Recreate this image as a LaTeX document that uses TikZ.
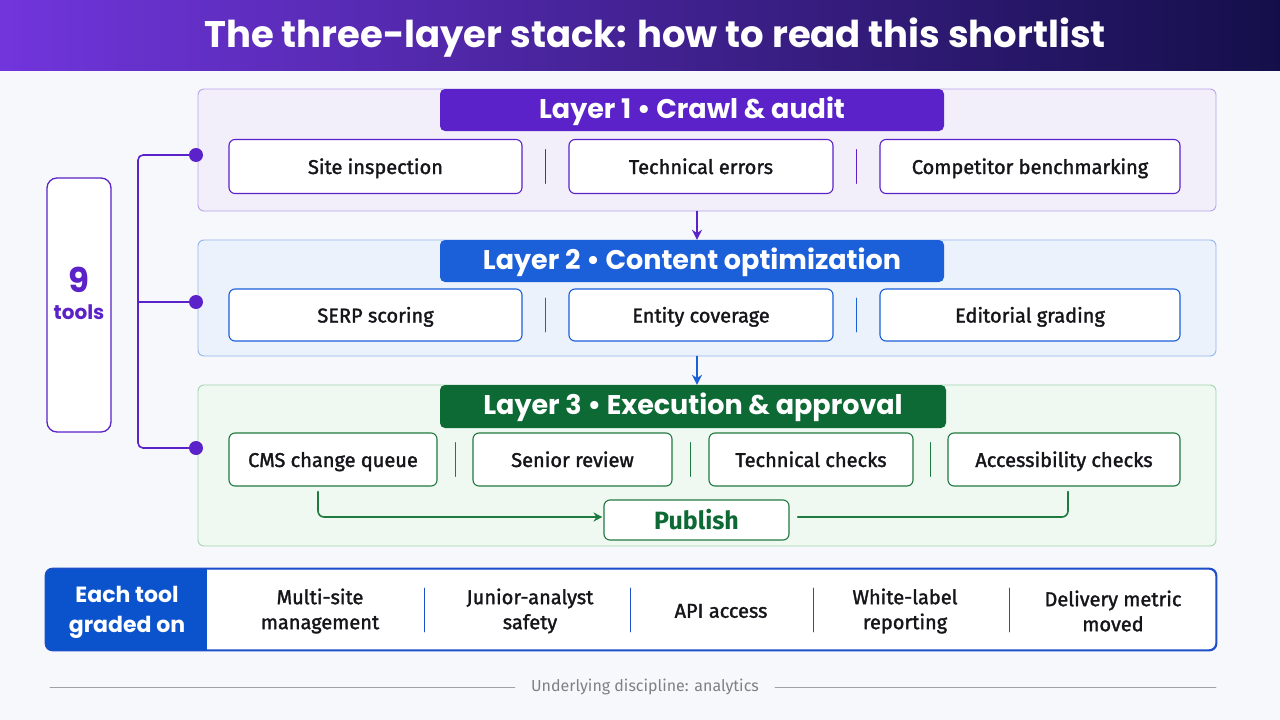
\documentclass[tikz,border=0pt]{standalone}
\usepackage{fontspec}
\setmainfont{Fira Sans}
\newfontfamily\headfont{Poppins}
\newfontfamily\medfont[FakeBold=1.6]{Fira Sans}
\usetikzlibrary{arrows.meta,positioning,calc}

\definecolor{ttlL}{HTML}{7135DC}
\definecolor{ttlM}{HTML}{3C1A98}
\definecolor{ttlR}{HTML}{140F4A}
\definecolor{pagebg}{HTML}{F7F8FB}
\definecolor{violetA}{HTML}{5A22C8}
\definecolor{violetFill}{HTML}{F2EEFA}
\definecolor{violetEdge}{HTML}{B9A4E9}
\definecolor{blueB}{HTML}{1B5FD9}
\definecolor{blueFill}{HTML}{EBF2FC}
\definecolor{blueEdge}{HTML}{92B5EE}
\definecolor{greenC}{HTML}{0D6A35}
\definecolor{greenFill}{HTML}{EFF8F1}
\definecolor{greenEdge}{HTML}{A2D5AE}
\definecolor{greenLine}{HTML}{1F7A3F}
\definecolor{gradeEdge}{HTML}{1D4FC8}
\definecolor{gradeTab}{HTML}{0B53CD}
\definecolor{footGray}{HTML}{A0A0A6}
\definecolor{inkDark}{HTML}{15151A}

\tikzset{
  layerbox/.style={rounded corners=6pt,line width=0.9pt,minimum height=#1,inner sep=0pt},
  layertab/.style={rounded corners=5pt,minimum width=504pt,minimum height=42pt,inner sep=0pt,
    text height=20pt,text depth=4pt,
    text=white,font=\headfont\bfseries\fontsize{27}{30}\selectfont},
  itembox/.style={draw=#1,fill=white,rounded corners=6pt,line width=1.1pt,minimum height=54pt,
    inner sep=0pt,text height=17pt,text depth=2pt,text=inkDark,font=\medfont\fontsize{20}{24}\selectfont},
  sepline/.style={line width=0.9pt,draw=#1},
  stepflow/.style={line width=1.8pt,draw=#1,-{Stealth[length=10pt,width=10pt]}},
  tooldot/.style={circle,fill=violetA,minimum size=14pt,inner sep=0pt},
  gradeitem/.style={align=center,text=inkDark,font=\medfont\fontsize{20}{25}\selectfont},
}

\begin{document}
\begin{tikzpicture}[x=1pt,y=-1pt,line join=round,line cap=round]
  % page and title
  \fill[pagebg] (0,0) rectangle (1280,720);
  \useasboundingbox (0,0) rectangle (1280,720);
  \shade[left color=ttlL,middle color=ttlM,right color=ttlR] (0,0) rectangle (1280,70);
  \node[text=white,font=\headfont\bfseries\fontsize{37}{42}\selectfont] (title) at (655,38)
    {The three-layer stack: how to read this shortlist};

  % layer 1
  \node[layerbox=122pt,fill=violetFill,draw=violetEdge,minimum width=1018pt] (lay1) at (707,150) {};
  \node[layertab,fill=violetA] (tab1) at (692,110) {Layer 1 \textbullet\ Crawl \& audit};
  \node[itembox=violetA,minimum width=293pt] (a1) at (375.5,166.5) {Site inspection};
  \node[itembox=violetA,minimum width=264pt] (a2) at (701,166.5) {Technical errors};
  \node[itembox=violetA,minimum width=300pt] (a3) at (1030,166.5) {Competitor benchmarking};

  % layer 2
  \node[layerbox=116pt,fill=blueFill,draw=blueEdge,minimum width=1018pt] (lay2) at (707,298) {};
  \node[layertab,fill=blueB] (tab2) at (692,261) {Layer 2 \textbullet\ Content optimization};
  \node[itembox=blueB,minimum width=293pt,minimum height=52pt] (b1) at (375.5,315) {SERP scoring};
  \node[itembox=blueB,minimum width=264pt,minimum height=52pt] (b2) at (701,315) {Entity coverage};
  \node[itembox=blueB,minimum width=300pt,minimum height=52pt] (b3) at (1030,315) {Editorial grading};

  % layer 3
  \node[layerbox=161pt,fill=greenFill,draw=greenEdge,minimum width=1018pt] (lay3) at (707,465.5) {};
  \node[layertab,fill=greenC,minimum width=506pt,minimum height=43pt] (tab3) at (693,406.5) {Layer 3 \textbullet\ Execution \& approval};
  \node[itembox=greenLine,minimum width=208pt,minimum height=53pt] (c1) at (333,459.5) {CMS change queue};
  \node[itembox=greenLine,minimum width=199pt,minimum height=53pt] (c2) at (572.5,459.5) {Senior review};
  \node[itembox=greenLine,minimum width=204pt,minimum height=53pt] (c3) at (811,459.5) {Technical checks};
  \node[itembox=greenLine,minimum width=232pt,minimum height=53pt] (c4) at (1064,459.5) {Accessibility checks};
  \node[draw=greenLine,fill=white,rounded corners=6pt,line width=1.1pt,minimum width=185pt,
    minimum height=40pt,inner sep=0pt,text=greenC,font=\bfseries\fontsize{25}{28}\selectfont]
    (pub) at (696.5,520) {Publish};

  % separators
  \foreach \l/\r/\c in {a1/a2/violetA,a2/a3/violetA,b1/b2/blueB,b2/b3/blueB,
                        c1/c2/greenLine,c2/c3/greenLine,c3/c4/greenLine}
    \draw[sepline=\c] ($(\l.east)!0.5!(\r.west)$) ++(0,-17) -- ++(0,34);

  % flow between layers
  \draw[stepflow=violetA] ([xshift=5pt]tab1 |- lay1.south) -- ([xshift=5pt]tab2.north);
  \draw[stepflow=blueB] ([xshift=5pt]tab2 |- lay2.south) -- ([xshift=4pt]tab3.north);

  % publish paths
  \draw[line width=1.6pt,greenLine,rounded corners=6pt,-{Stealth[length=9pt,width=9pt]}]
    ([xshift=-15pt,yshift=-5pt]c1.south) |- ([xshift=-1pt,yshift=3pt]pub.west);
  \draw[line width=1.6pt,greenLine,rounded corners=6pt]
    ([xshift=4pt,yshift=-5pt]c4.south) |- ([xshift=8pt,yshift=3pt]pub.east);

  % tools bracket
  \node[draw=violetA,fill=white,rounded corners=10pt,line width=1.3pt,minimum width=64pt,
    minimum height=254pt] (tools) at (79,305) {};
  \node[text=violetA,font=\headfont\bfseries\fontsize{34}{36}\selectfont] (nine) at (79,280) {9};
  \node[text=violetA,font=\headfont\bfseries\fontsize{20}{22}\selectfont] (toolword) at (79,312) {tools};
  \node[tooldot] (d1) at (196,155) {};
  \node[tooldot] (d2) at (196,302) {};
  \node[tooldot] (d3) at (196,448) {};
  \coordinate (bt) at (138,155);
  \coordinate (bb) at (138,448);
  \draw[violetA,line width=1.6pt,rounded corners=5pt] (d1.center) -- (bt) -- (bb) -- (d3.center);
  \draw[violetA,line width=1.6pt] (d2.center) -- (bt |- d2);

  % grading bar
  \node[draw=gradeEdge,fill=white,rounded corners=7pt,line width=1.3pt,minimum width=1170pt,
    minimum height=81pt,inner sep=0pt] (grade) at (631,609.5) {};
  \begin{scope}
    \clip[rounded corners=7pt] (grade.south west) rectangle (grade.north east);
    \fill[gradeTab] (grade.north west) rectangle (207,650);
  \end{scope}
  \draw[gradeEdge,line width=1.3pt,rounded corners=7pt] (grade.south west) rectangle (grade.north east);
  \node[align=center,text=white,font=\headfont\bfseries\fontsize{22}{30}\selectfont] (gtab) at (127,612)
    {Each tool\\graded on};
  \node[gradeitem] (g1) at (320,611) {Multi-site\\management};
  \node[gradeitem] (g2) at (530,611) {Junior-analyst\\safety};
  \node[gradeitem] (g3) at (721,611) {API access};
  \node[gradeitem] (g4) at (905,611) {White-label\\reporting};
  \node[gradeitem] (g5) at (1113,611) {Delivery metric\\moved};
  \foreach \x in {424,630,813,1009}
    \draw[sepline=gradeEdge] (\x,588) -- (\x,632);

  % footer
  \node[text=footGray!80!black,font=\fontsize{16}{18}\selectfont,inner xsep=16pt] (foot) at (645,687)
    {Underlying discipline: analytics};
  \draw[footGray,line width=0.9pt] (50,687) -- (foot.west);
  \draw[footGray,line width=0.9pt] (foot.east) -- (1216,687);
\end{tikzpicture}
\end{document}
